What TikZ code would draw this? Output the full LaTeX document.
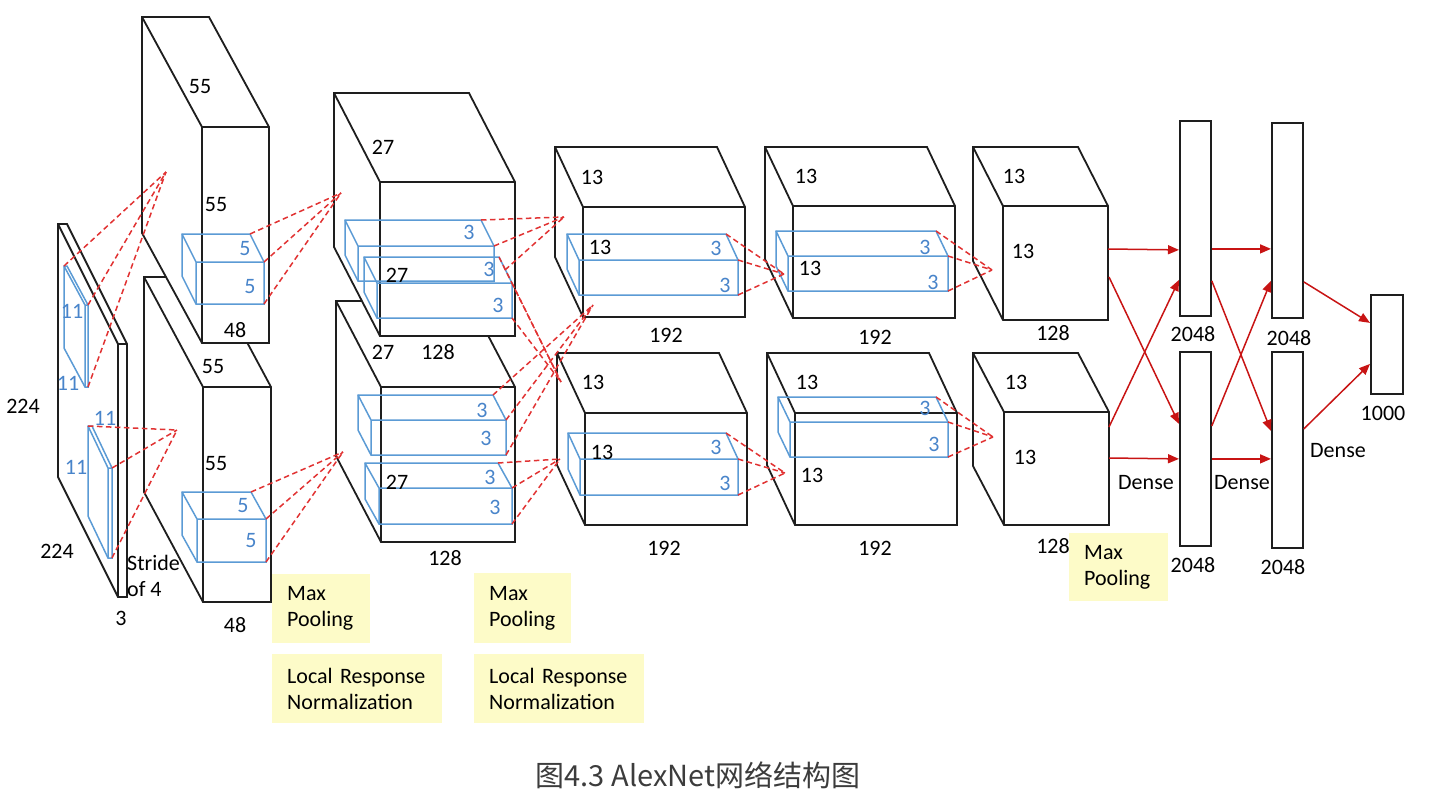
\documentclass[tikz,border=0pt]{standalone}
\usepackage{fontspec}
\setmainfont{Carlito}
\newfontfamily\cjkfont{Noto Sans CJK SC}
\usetikzlibrary{arrows.meta}
\definecolor{kblue}{RGB}{91,155,213}
\definecolor{kbluet}{RGB}{72,132,202}
\definecolor{dred}{RGB}{225,50,50}
\definecolor{ared}{RGB}{200,20,20}
\definecolor{yel}{RGB}{253,251,200}
\definecolor{edge}{RGB}{30,30,30}
\definecolor{capgray}{RGB}{60,60,60}
\newcommand\cubeshape[8]{%
  \draw[#1] (#2,#5) -- ({#2+(#6)},{#5+(#7)}) -- ({#2+(#6)},{#3+(#7)}) -- ({#4+(#6)},{#3+(#7)}) -- (#4,#3) -- (#4,#5) -- cycle;
  \draw[#1,fill=none] (#2,#3) -- (#4,#3) (#2,#3) -- (#2,#5) (#2,#3) -- ({#2+(#6)},{#3+(#7)});
  \coordinate (#8-b1) at ({#2+(#6)},{#3+(#7)});
  \coordinate (#8-b2) at ({#4+(#6)},{#3+(#7)});
  \coordinate (#8-f2) at (#4,#3);
  \coordinate (#8-f3) at (#4,#5);
}
\tikzset{
  cube/.style={draw=edge, line width=1.8pt, fill=white, line join=miter},
  kern/.style={draw=kblue, line width=1.5pt},
  rd/.style={draw=dred, line width=1.5pt, dash pattern=on 5.5pt off 3.5pt},
  arr/.style={draw=ared, line width=1.5pt, -{Triangle[length=11pt,width=9pt]}},
  lbl/.style={font=\fontsize{22}{26}\selectfont, inner sep=0pt, text=black},
  blbl/.style={lbl, text=kbluet},
  ybox/.style={fill=yel, inner xsep=15pt, inner ysep=0pt, align=left, anchor=north west,
    font=\fontsize{22}{26}\selectfont, text=black},
  dense/.style={draw=edge, line width=1.8pt, fill=white, inner sep=0pt, anchor=north west}
}
\begin{document}
\begin{tikzpicture}[x=1pt,y=-1pt]
\useasboundingbox (0,0) rectangle (1452,811);
% yellow boxes
\node[ybox, text width=68pt, minimum height=69pt] (y1) at (272,574) {Max\\Pooling};
\node[ybox, text width=140pt, minimum height=69pt] (y2) at (272,654) {Local Response\\Normalization};
\node[ybox, text width=67pt, minimum height=70pt] (y3) at (474,573) {Max\\Pooling};
\node[ybox, text width=140pt, minimum height=69pt] (y4) at (474,654) {Local Response\\Normalization};
\node[ybox, text width=69pt, minimum height=68pt] (y5) at (1069,533) {Max\\Pooling};
% input
\cubeshape{cube}{118}{344}{127}{597}{-60}{-120}{inp}
\cubeshape{kern}{85}{305}{88}{387}{-21}{-39}{ik1}
\cubeshape{kern}{108}{468}{112}{558}{-20}{-42}{ik2}
% layer 1
\cubeshape{cube}{203}{387}{271}{602}{-59}{-110}{c1b}
\cubeshape{cube}{202}{127}{269}{343}{-60}{-110}{c1a}
\cubeshape{kern}{196}{262}{264}{304}{-14}{-28}{k1a}
\cubeshape{kern}{197}{519}{266}{562}{-15}{-27}{k1b}
% layer 2
\cubeshape{cube}{381}{387}{515}{542}{-45}{-86}{c2b}
\cubeshape{cube}{380}{182}{515}{336}{-46}{-89}{c2a}
\cubeshape{kern}{358}{246}{494}{281}{-13}{-26}{k2a}
\cubeshape{kern}{377}{283}{512}{318}{-13}{-26}{k2b}
\cubeshape{kern}{371}{420}{506}{455}{-13}{-25}{k2c}
\cubeshape{kern}{379}{488}{512}{524}{-14}{-25}{k2d}
% layer 3
\cubeshape{cube}{583}{207}{745}{317}{-28}{-60}{c3a}
\cubeshape{cube}{585}{413}{747}{525}{-28}{-60}{c3b}
\cubeshape{kern}{579}{260}{738}{295}{-12}{-26}{k3a}
\cubeshape{kern}{580}{459}{738}{495}{-12}{-26}{k3b}
% layer 4
\cubeshape{cube}{793}{206}{955}{318}{-28}{-59}{c4a}
\cubeshape{cube}{795}{413}{957}{525}{-28}{-60}{c4b}
\cubeshape{kern}{788}{256}{948}{291}{-12}{-25}{k4a}
\cubeshape{kern}{790}{422}{948}{457}{-12}{-25}{k4b}
% layer 5
\cubeshape{cube}{1003}{206}{1108}{320}{-30}{-59}{c5a}
\cubeshape{cube}{1004}{412}{1109}{525}{-31}{-59}{c5b}
% apexes
\coordinate (a1) at (166,172);
\coordinate (a2) at (177,430);
\coordinate (a3) at (341,193);
\coordinate (a4) at (343,452);
\coordinate (a5) at (564,217);
\coordinate (a6) at (561,382);
\coordinate (a7) at (593,305);
\coordinate (a8) at (560,459);
\coordinate (a9) at (784,274);
\coordinate (a10) at (785,473);
\coordinate (a11) at (992,270);
\coordinate (a12) at (993,437);
\coordinate (k2a-x) at (505,270);
% red dashed
\foreach \c in {b1,f2,f3} {\draw[rd] (ik1-\c) -- (a1); \draw[rd] (ik2-\c) -- (a2);}
\foreach \c in {b2,f2,f3} {
  \draw[rd] (k1a-\c) -- (a3);
  \draw[rd] (k1b-\c) -- (a4);
  \draw[rd] (k2b-\c) -- (a6);
  \draw[rd] (k2c-\c) -- (a7);
  \draw[rd] (k2d-\c) -- (a8);
  \draw[rd] (k3a-\c) -- (a9);
  \draw[rd] (k3b-\c) -- (a10);
  \draw[rd] (k4a-\c) -- (a11);
  \draw[rd] (k4b-\c) -- (a12);
}
\foreach \c in {b2,f2,x} {\draw[rd] (k2a-\c) -- (a5);}
% dense layers
\node[dense, minimum width=31pt, minimum height=195pt] (fc1a) at (1179,120) {};
\node[dense, minimum width=31pt, minimum height=194pt] (fc1b) at (1179,351) {};
\node[dense, minimum width=31pt, minimum height=195pt] (fc2a) at (1271,122) {};
\node[dense, minimum width=31pt, minimum height=196pt] (fc2b) at (1271,351) {};
\node[dense, minimum width=32pt, minimum height=99pt] (out) at (1370,294) {};
\coordinate (s1) at (1108,249);
\coordinate (s2) at (1109,277);
\coordinate (s3) at (1109,427);
\coordinate (s4) at (1109,458);
\draw[arr] (s1) -- ([yshift=-31.5pt]fc1a.west);
\draw[arr] (s2) -- ([yshift=25pt]fc1b.west);
\draw[arr] (s3) -- ([yshift=-61.5pt]fc1a.west);
\draw[arr] (s4) -- ([yshift=-10pt]fc1b.west);
\draw[arr] ([yshift=-30.5pt]fc1a.east) -- ([yshift=-28.5pt]fc2a.west);
\draw[arr] ([yshift=-62.5pt]fc1a.east) -- ([yshift=19pt]fc2b.west);
\draw[arr] ([yshift=23pt]fc1b.east) -- ([yshift=-60.5pt]fc2a.west);
\draw[arr] ([yshift=-10pt]fc1b.east) -- ([yshift=-9pt]fc2b.west);
\draw[arr] ([yshift=-61.5pt]fc2a.east) -- ([yshift=21.5pt]out.west);
\draw[arr] ([yshift=21pt]fc2b.east) -- ([yshift=-19.5pt]out.west);
% labels input
\node[lbl] (t1) at (23,406) {224};
\node[lbl] (t2) at (57,551) {224};
\node[lbl] (t3) at (121,618) {3};
\node[lbl, align=left, anchor=west] (t4) at (127,576) {Stride\\of 4};
\node[blbl] (t5) at (72,311) {11};
\node[blbl] (t6) at (68,383) {11};
\node[blbl] (t7) at (105,418) {11};
\node[blbl] (t8) at (76,467) {11};
% layer 1 labels
\node[lbl] (t9) at (200,87) {55};
\node[lbl] (t10) at (216,205) {55};
\node[lbl] (t11) at (235,330) {48};
\node[lbl] (t12) at (213,367) {55};
\node[lbl] (t13) at (216,464) {55};
\node[lbl] (t14) at (235,625) {48};
\node[blbl] (t15) at (245,249) {5};
\node[blbl] (t16) at (250,287) {5};
\node[blbl] (t17) at (243,506) {5};
\node[blbl] (t18) at (251,541) {5};
% layer 2 labels
\node[lbl] (t19) at (383,147) {27};
\node[lbl] (t20) at (397,275) {27};
\node[lbl] (t21) at (383,352) {27};
\node[lbl] (t22) at (438,352) {128};
\node[lbl] (t23) at (397,482) {27};
\node[lbl] (t24) at (445,558) {128};
\node[blbl] (t25) at (469,232) {3};
\node[blbl] (t26) at (489,269) {3};
\node[blbl] (t27) at (498,305) {3};
\node[blbl] (t28) at (482,410) {3};
\node[blbl] (t29) at (486,438) {3};
\node[blbl] (t30) at (490,477) {3};
\node[blbl] (t31) at (495,507) {3};
% layer 3 labels
\node[lbl] (t32) at (592,177) {13};
\node[lbl] (t33) at (600,247) {13};
\node[lbl] (t34) at (666,335) {192};
\node[lbl] (t35) at (593,382) {13};
\node[lbl] (t36) at (602,452) {13};
\node[lbl] (t37) at (664,548) {192};
\node[blbl] (t38) at (716,248) {3};
\node[blbl] (t39) at (725,285) {3};
\node[blbl] (t40) at (716,447) {3};
\node[blbl] (t41) at (725,483) {3};
% layer 4 labels
\node[lbl] (t42) at (806,176) {13};
\node[lbl] (t43) at (810,268) {13};
\node[lbl] (t44) at (875,337) {192};
\node[lbl] (t45) at (807,382) {13};
\node[lbl] (t46) at (812,475) {13};
\node[lbl] (t47) at (875,548) {192};
\node[blbl] (t48) at (925,247) {3};
\node[blbl] (t49) at (933,282) {3};
\node[blbl] (t50) at (925,408) {3};
\node[blbl] (t51) at (934,444) {3};
% layer 5 labels
\node[lbl] (t52) at (1014,176) {13};
\node[lbl] (t53) at (1023,251) {13};
\node[lbl] (t54) at (1053,333) {128};
\node[lbl] (t55) at (1016,382) {13};
\node[lbl] (t56) at (1025,457) {13};
\node[lbl] (t57) at (1053,546) {128};
% dense labels
\node[lbl] (t58) at (1193,334) {2048};
\node[lbl] (t59) at (1289,338) {2048};
\node[lbl] (t60) at (1193,565) {2048};
\node[lbl] (t61) at (1283,567) {2048};
\node[lbl] (t62) at (1383,413) {1000};
\node[lbl] (t63) at (1146,483) {Dense};
\node[lbl] (t64) at (1242,483) {Dense};
\node[lbl] (t65) at (1338,451) {Dense};
% caption
\node[font=\cjkfont\fontsize{29}{34}\selectfont, text=capgray, inner sep=0pt] (cap) at (698,775) {图4.3 AlexNet网络结构图};
\end{tikzpicture}
\end{document}
